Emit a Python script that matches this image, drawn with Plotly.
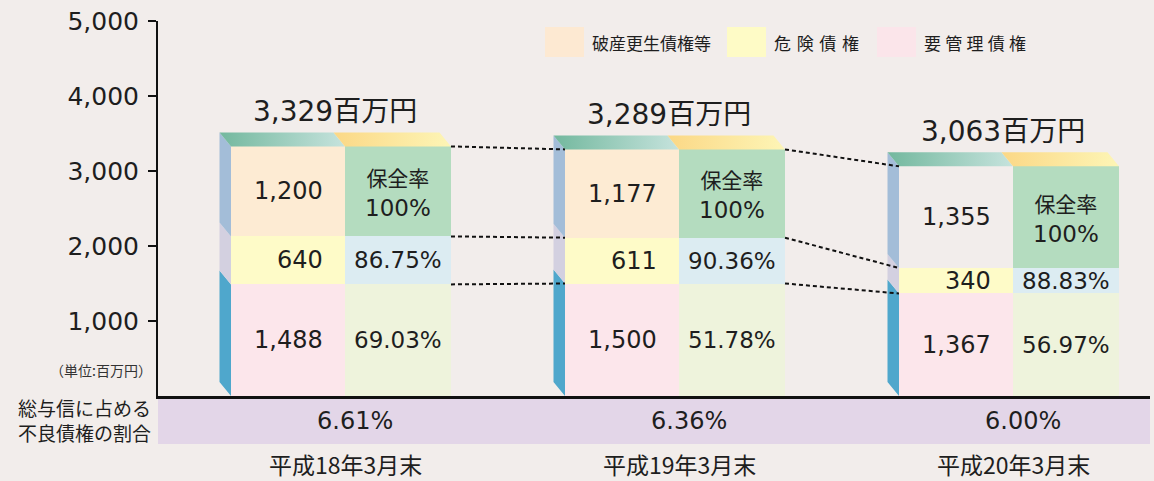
import plotly.graph_objects as go

# ---------------- data ----------------
categories = ["平成18年3月末", "平成19年3月末", "平成20年3月末"]
bankrupt = [1200, 1177, 1355]        # 破産更生債権等
doubtful = [640, 611, 340]           # 危険債権
substandard = [1488, 1500, 1367]     # 要管理債権
totals_label = ["3,329", "3,289", "3,063"]
cover_top = ["100%", "100%", "100%"]
cover_mid = ["86.75%", "90.36%", "88.83%"]
cover_bot = ["69.03%", "51.78%", "56.97%"]
npl_ratio = ["6.61%", "6.36%", "6.00%"]
yticks = [1000, 2000, 3000, 4000, 5000]

# ---------------- style ----------------
BG = "#f2edeb"
NUMFONT = "DejaVu Sans, Noto Sans CJK JP"
JPFONT = "Noto Sans CJK JP"
TXT = "#1e1e1e"

PLOT_L, PLOT_R, PLOT_T, PLOT_B = 158, 1150, 21, 396
W, H = 1154, 481
PXU = 334.0                       # px per group unit on x
XMIN = (PLOT_L - 345) / PXU
XMAX = XMIN + (PLOT_R - PLOT_L) / PXU
YMAX = 5000
PYU = (PLOT_B - PLOT_T) / YMAX    # px per y unit

wL = 114 / PXU
wR = 106 / PXU
dx = 11.5 / PXU
dy = 14 / PYU

def pxx(p):
    return (p - PLOT_L) / (PLOT_R - PLOT_L)

def pxy(p):
    return (PLOT_B - p) / (PLOT_B - PLOT_T)

n = len(categories)
xs = list(range(n))
c1 = substandard
c2 = [a + b for a, b in zip(substandard, doubtful)]
c3 = [a + b for a, b in zip(c2, bankrupt)]

fig = go.Figure()

# left column (amounts)
left_top_colors = ["#fdebd3", "#fdebd3", BG]
fig.add_trace(go.Bar(x=[x - wL / 2 for x in xs], y=substandard, base=[0] * n, width=wL,
                     marker=dict(color="#fce6eb", line=dict(width=0)), hoverinfo="skip"))
fig.add_trace(go.Bar(x=[x - wL / 2 for x in xs], y=doubtful, base=c1, width=wL,
                     marker=dict(color="#fefbc8", line=dict(width=0)), hoverinfo="skip"))
fig.add_trace(go.Bar(x=[x - wL / 2 for x in xs], y=bankrupt, base=c2, width=wL,
                     marker=dict(color=left_top_colors, line=dict(width=0)), hoverinfo="skip"))
# right column (coverage)
fig.add_trace(go.Bar(x=[x + wR / 2 for x in xs], y=substandard, base=[0] * n, width=wR,
                     marker=dict(color="#eef3dc", line=dict(width=0)), hoverinfo="skip"))
fig.add_trace(go.Bar(x=[x + wR / 2 for x in xs], y=doubtful, base=c1, width=wR,
                     marker=dict(color="#dcecf2", line=dict(width=0)), hoverinfo="skip"))
fig.add_trace(go.Bar(x=[x + wR / 2 for x in xs], y=bankrupt, base=c2, width=wR,
                     marker=dict(color="#b4dcbf", line=dict(width=0)), hoverinfo="skip"))

# side faces
side_cols = ["#4fa7cc", "#d3d0e0", "#a3bdd8"]
bounds = [([0] * n, c1), (c1, c2), (c2, c3)]
for (lo, hi), col in zip(bounds, side_cols):
    px_, py_ = [], []
    for g in xs:
        xl = g - wL
        px_ += [xl, xl, xl - dx, xl - dx, xl, None]
        py_ += [lo[g], hi[g], hi[g] + dy, lo[g] + dy if lo[g] > 0 else dy, lo[g], None]
    fig.add_trace(go.Scatter(x=px_, y=py_, mode="lines", fill="toself", fillcolor=col,
                             line=dict(width=0), hoverinfo="skip"))

# top faces with gradient
for g in xs:
    t = c3[g]
    xl, xm, xr = g - wL, g, g + wR
    fig.add_trace(go.Scatter(x=[xl, xm, xm - dx, xl - dx, xl], y=[t, t, t + dy, t + dy, t],
                             mode="lines", fill="toself", line=dict(width=0),
                             fillgradient=dict(type="horizontal",
                                               colorscale=[[0, "#73b89e"], [1, "#c6e3dd"]]),
                             hoverinfo="skip"))
    fig.add_trace(go.Scatter(x=[xm, xr, xr - dx, xm - dx, xm], y=[t, t, t + dy, t + dy, t],
                             mode="lines", fill="toself", line=dict(width=0),
                             fillgradient=dict(type="horizontal",
                                               colorscale=[[0, "#fbd886"], [1, "#fdf5b6"]]),
                             hoverinfo="skip"))

# dashed connectors
for cum in (c3, c2, c1):
    for g in range(n - 1):
        fig.add_trace(go.Scatter(x=[g + wR, g + 1 - wL], y=[cum[g], cum[g + 1]], mode="lines",
                                 line=dict(color="#111111", width=2, dash="4px,3px"),
                                 hoverinfo="skip"))

ann = []
for g in xs:
    # amounts, right aligned in left column
    for val, lo, hi in ((substandard[g], 0, c1[g]), (doubtful[g], c1[g], c2[g]),
                        (bankrupt[g], c2[g], c3[g])):
        ann.append(dict(x=g, y=(lo + hi) / 2, text=f"{val:,}", xanchor="right", xshift=-20,
                        yanchor="middle", showarrow=False,
                        font=dict(family=NUMFONT, size=24, color=TXT)))
    # coverage ratios centred in right column
    ann.append(dict(x=g + wR / 2, y=(c2[g] + c3[g]) / 2,
                    text=f"<span style='font-family:{JPFONT};font-size:21px'>保全率</span><br>{cover_top[g]}",
                    showarrow=False, yanchor="middle",
                    font=dict(family=NUMFONT, size=23, color=TXT)))
    ann.append(dict(x=g + wR / 2, y=(c1[g] + c2[g]) / 2, text=cover_mid[g], showarrow=False,
                    yanchor="middle", font=dict(family=NUMFONT, size=23, color=TXT)))
    ann.append(dict(x=g + wR / 2, y=c1[g] / 2, text=cover_bot[g], showarrow=False,
                    yanchor="middle", font=dict(family=NUMFONT, size=23, color=TXT)))
    # totals
    ann.append(dict(x=(g - wL - dx + g + wR) / 2, y=c3[g] + dy, yshift=23,
                    text=f"{totals_label[g]}<span style='font-family:{JPFONT}'>百万円</span>",
                    showarrow=False, yanchor="middle",
                    font=dict(family=NUMFONT, size=28, color=TXT)))
    # NPL ratio in band
    ann.append(dict(x=g, xshift=10, y=pxy(421), yref="paper", text=npl_ratio[g],
                    showarrow=False, yanchor="middle",
                    font=dict(family=NUMFONT, size=24, color=TXT)))
    # category labels
    ann.append(dict(x=g, y=pxy(464), yref="paper", text=categories[g], showarrow=False,
                    yanchor="middle", font=dict(family=JPFONT, size=23, color=TXT)))

# left labels
ann.append(dict(x=pxx(153), xref="paper", y=pxy(420), yref="paper",
                text="総与信に占める<br>不良債権の割合",
                xanchor="right", yanchor="middle", align="right", showarrow=False,
                font=dict(family=JPFONT, size=19, color=TXT)))
ann.append(dict(x=pxx(154), xref="paper", y=pxy(370), yref="paper", text="（単位:百万円）",
                xanchor="right", yanchor="middle", showarrow=False,
                font=dict(family=JPFONT, size=14, color="#333333")))

# legend
legend_items = [("破産更生債権等", "#fde9d2", 545),
                ("危\u2004険\u2004債\u2004権", "#fefbc6", 727),
                ("要\u2005管\u2005理\u2005債\u2005権", "#fbe5ea", 877)]
shapes = []
for label, col, x0 in legend_items:
    shapes.append(dict(type="rect", xref="paper", yref="paper", x0=pxx(x0), x1=pxx(x0 + 39),
                       y0=pxy(57), y1=pxy(27), fillcolor=col, line=dict(width=0), layer="below"))
    ann.append(dict(x=pxx(x0 + 45), xref="paper", y=pxy(42), yref="paper", text=label,
                    xanchor="left", yanchor="middle", showarrow=False,
                    font=dict(family=JPFONT, size=17, color=TXT)))

# purple band
shapes.append(dict(type="rect", xref="paper", yref="paper", x0=0, x1=1,
                   y0=pxy(444), y1=pxy(398), fillcolor="#e3d6e8", line=dict(width=0),
                   layer="below"))

fig.update_layout(
    width=W, height=H, paper_bgcolor=BG, plot_bgcolor=BG,
    margin=dict(l=PLOT_L, r=W - PLOT_R, t=PLOT_T, b=H - PLOT_B, pad=0),
    barmode="overlay", bargap=0, showlegend=False,
    annotations=ann, shapes=shapes,
    xaxis=dict(range=[XMIN, XMAX], showgrid=False, zeroline=False, showticklabels=False,
               ticks="", showline=True, linecolor="#111111", linewidth=3, fixedrange=True),
    yaxis=dict(range=[0, YMAX], tickvals=yticks, ticktext=[f"{v:,}" for v in yticks],
               showgrid=False, zeroline=False, showline=True, linecolor="#111111", linewidth=2,
               ticks="outside", ticklen=8, tickwidth=2, tickcolor="#111111",
               ticklabelstandoff=4,
               tickfont=dict(family=NUMFONT, size=25, color=TXT), fixedrange=True),
)

fig.write_html(
    "out.html",
    config={"displayModeBar": False},
    post_script="document.body.style.margin='0';document.body.style.overflow='hidden';"
                "document.body.style.background='" + BG + "';",
)
